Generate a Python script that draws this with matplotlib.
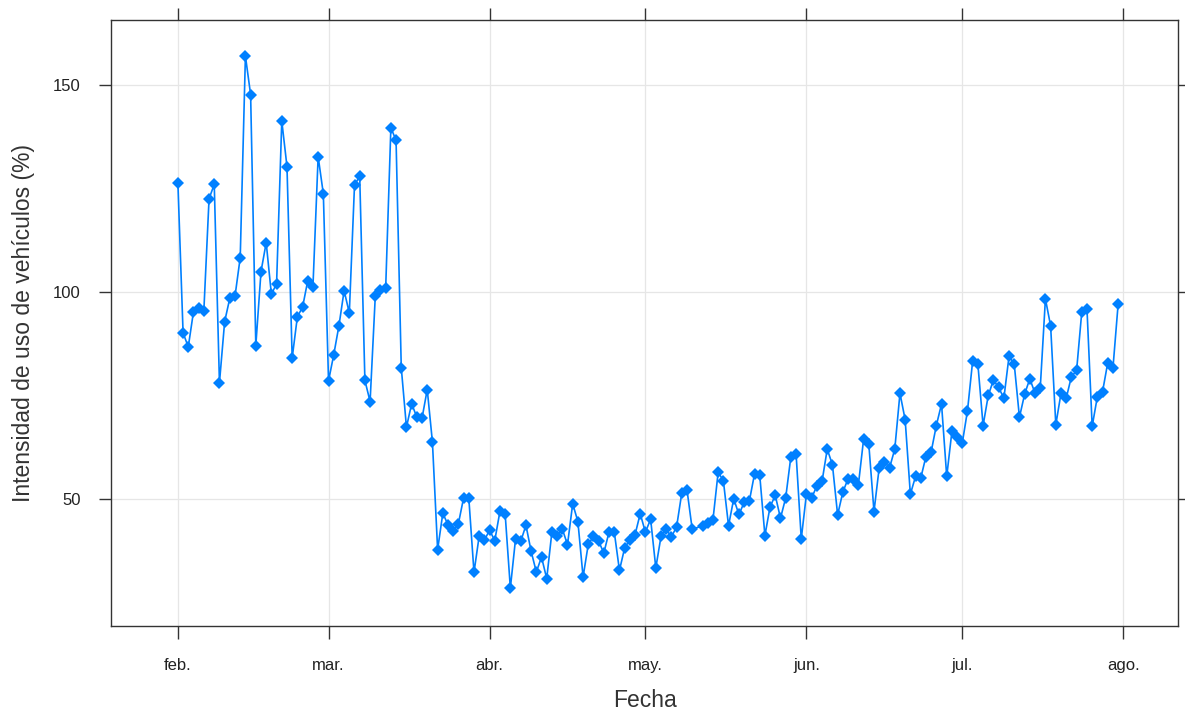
import numpy as np
import pandas as pd
import matplotlib
matplotlib.use("Agg")
import matplotlib.pyplot as plt
import matplotlib.dates as mdates

plt.rcParams['font.family'] = ['Liberation Sans', 'DejaVu Sans']

# valores diarios (2020), None = dia sin dato
feb_vals = [126.4, 90.1, 86.7, 95.2, 96.2, 95.5, 122.5, 126, 78, 92.8, 98.5, 99, 108.3, 157,
            147.7, 87, 104.9, 111.9, 99.4, 102, 141.3, 130.3, 84, 94, 96.3, 102.7, 101.3, 132.7, 123.7]
mar_vals = [78.5, 84.8, 91.8, 100.3, 94.9, 125.8, 128, 78.6, 73.5, 99, 100.5, 100.9, 139.7, 136.6,
            81.7, 67.3, 73, 69.7, 69.5, 76.4, 63.7, 37.7, 46.5, 43.7, 42.3, 44, 50.2, 50.2, 32.2, 41, 40]
abr_vals = [42.4, 39.9, 47, 46.3, 28.4, 40.3, 39.7, 43.6, 37.3, 32.3, 35.9, 30.7, 42, 41.1, 42.7,
            38.9, 48.8, 44.5, 31.1, 39, 40.9, 39.7, 36.9, 42, 42, 32.7, 38.1, 40.1, 41.3, 46.4]
may_vals = [41.9, 45.1, 33.3, 40.9, 42.6, 40.8, 43.2, 51.4, 52.2, 42.7, None, 43.4, 44.2, 44.9,
            56.4, 54.4, 43.5, 50, 46.2, 49.1, 49.4, 56, 55.8, 41.1, 48.1, 50.8, 45.3, 50.2, 60.2, 60.9, 40.3]
jun_vals = [51.2, 50.2, 53.1, 54.2, 62, 58.2, 46.1, 51.6, 54.8, 54.8, 53.4, 64.4, 63.2, 46.9, 57.5,
            58.9, 57.5, 62, 75.5, 69.1, 51.1, 55.4, 55, 60.2, 61.3, 67.7, 72.9, 55.4, 66.3, 64.9]
jul_vals = [63.5, 71.3, 83.4, 82.5, 67.7, 75, 78.7, 76.9, 74.3, 84.5, 82.5, 69.7, 75.3, 79, 75.5,
            76.7, 98.3, 91.8, 67.9, 75.5, 74.3, 79.5, 81, 95.2, 95.9, 67.5, 74.7, 75.9, 82.9, 81.6, 97.1]

month_labels = ['feb.', 'mar.', 'abr.', 'may.', 'jun.', 'jul.', 'ago.']

valores = feb_vals + mar_vals + abr_vals + may_vals + jun_vals + jul_vals
fechas = pd.date_range('2020-02-01', '2020-07-31', freq='D')
df = pd.DataFrame({'fecha': fechas, 'valor': valores}).dropna()

color = '#0080ff'
fig = plt.figure(figsize=(11.85, 7.16), dpi=100)
ax = fig.add_axes([0.094, 0.126, 0.900, 0.846])

ax.plot(df['fecha'], df['valor'], color=color, lw=1.2, marker='D', ms=5.8,
        markeredgewidth=0, zorder=3)

ticks = pd.date_range('2020-02-01', '2020-08-01', freq='MS')
ax.set_xticks(ticks)
ax.set_xticklabels(month_labels)
ax.set_xlim(pd.Timestamp('2020-02-01') - pd.Timedelta(days=12.8),
            pd.Timestamp('2020-08-01') + pd.Timedelta(days=10.5))
ax.set_yticks([50, 100, 150])
ax.set_ylim(19.3, 165.7)

ax.grid(True, color='#e6e6e6', lw=0.9, zorder=0)
for s in ax.spines.values():
    s.set_color('#333333')
    s.set_linewidth(1.0)

ax.tick_params(axis='both', direction='out', length=9, width=1, color='#333333',
               labelsize=12, labelcolor='#222222')
ax.tick_params(axis='x', top=True, pad=14)
ax.tick_params(axis='y', right=True, pad=13)

ax.set_xlabel('Fecha', fontsize=16.5, color='#333333', labelpad=12)
ax.set_ylabel('Intensidad de uso de vehículos (%)', fontsize=16.5, color='#333333', labelpad=13)

fig.savefig('out.png', dpi=100)
